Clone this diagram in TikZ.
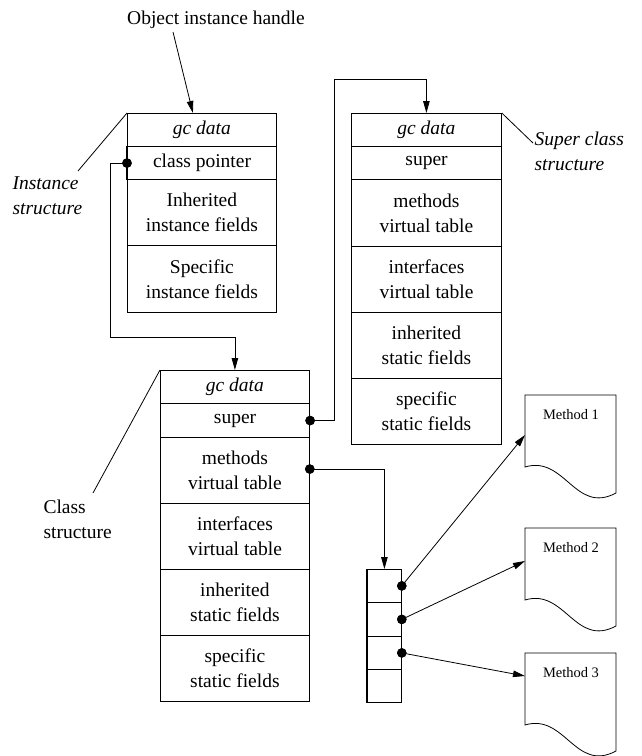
\documentclass[tikz,border=0pt]{standalone}
\usepackage{fontspec}
\setmainfont{Liberation Serif}
\usetikzlibrary{arrows.meta,calc}
\begin{document}
\begin{tikzpicture}[x=1pt,y=-1pt,
  every node/.style={font=\fontsize{19.5}{25}\selectfont},
  cell/.style={draw, line width=0.8pt, anchor=north west, inner sep=0pt, align=center},
  icell/.style={cell, minimum width=149pt},
  scell/.style={cell, minimum width=150pt},
  vcell/.style={cell, minimum width=34pt},
  thickcell/.style={line width=1.1pt},
  dot/.style={circle, fill=black, draw=none, inner sep=0pt, minimum size=9.5pt},
  arr/.style={line width=0.8pt, -{Triangle[length=12pt,width=6.5pt]}},
  wire/.style={line width=0.8pt},
  doc/.style={draw, line width=0.8pt},
  lab/.style={align=left, anchor=west},
  small/.style={font=\fontsize{14.5}{17}\selectfont}
]
\useasboundingbox (0,0) rectangle (642,756);

% ---- title
\node (oih) at (216,20) {Object instance handle};
\coordinate (h0) at (173,32);

% ---- instance structure
\node[icell, minimum height=33pt] (ig) at (127,113) {\itshape gc data};
\node[icell, minimum height=66pt] (iinh) at (127,179) {Inherited\\instance fields};
\node[icell, minimum height=67pt] (isp) at (127,245) {Specific\\instance fields};
\node[icell, minimum height=33pt, thickcell] (icp) at (127,146) {class pointer};
\draw[line width=1.6pt] (icp.north west) -- (icp.south west);

% ---- super class structure
\node[scell, minimum height=33pt] (sg) at (351,113) {\itshape gc data};
\node[scell, minimum height=67pt] (smeth) at (351,179) {methods\\virtual table};
\node[scell, minimum height=66pt] (sinh) at (351,312) {inherited\\static fields};
\node[scell, minimum height=66pt] (ssp) at (351,378) {specific\\static fields};
\node[scell, minimum height=33pt, thickcell] (ssup) at (351,146) {super};
\node[scell, minimum height=66pt, thickcell] (sintf) at (351,246) {interfaces\\virtual table};

% ---- class structure
\node[icell, minimum height=33pt] (cg) at (160,370) {\itshape gc data};
\node[icell, minimum height=66pt] (cmeth) at (160,437) {methods\\virtual table};
\node[icell, minimum height=66pt] (cinh) at (160,569) {inherited\\static fields};
\node[icell, minimum height=66pt] (csp) at (160,635) {specific\\static fields};
\node[icell, minimum height=34pt, thickcell] (csup) at (160,403) {super};
\node[icell, minimum height=66pt, thickcell] (cintf) at (160,503) {interfaces\\virtual table};

% ---- virtual table
\node[vcell, minimum height=33pt] (v1) at (367,569) {};
\node[vcell, minimum height=34pt] (v2) at (367,602) {};
\node[vcell, minimum height=33pt] (v3) at (367,636) {};
\node[vcell, minimum height=33pt] (v4) at (367,669) {};
\draw[line width=1.3pt] (v1.north west) -- (v4.south west) -- (v4.south east);

% ---- methods
\foreach \yy/\n in {395/1,528/2,653/3}{
  \draw[doc] (525,\yy) -- (616,\yy) -- (616,\yy+98)
     .. controls (575,\yy+120) and (565,\yy+60) .. (525,\yy+72) -- cycle;
  \node[small] (m\n) at (571,\yy+20) {Method \n};
}
\coordinate (t1) at (525,435);
\coordinate (t2) at (525,561);
\coordinate (t3) at (525,676);

% ---- labels
\node[lab, font=\fontsize{19.5}{25}\selectfont\itshape] (ilab) at (9,196) {Instance\\structure};
\node[lab, font=\fontsize{19.5}{25}\selectfont\itshape] (slab) at (531,151) {Super class\\structure};
\node[lab] (clab) at (40,519) {Class\\structure};
\coordinate (il) at (78,171);
\coordinate (sl) at (533,143);
\coordinate (cl) at (93,493);
\draw[wire] (il) -- (ig.north west);
\draw[wire] (sl) -- (sg.north east);
\draw[wire] (cl) -- (cg.north west);

% ---- dots
\node[dot] (dI) at (icp.west) {};
\node[dot] (dS) at (csup.east) {};
\node[dot] (dM) at ($(cmeth.north east)!0.48!(cmeth.south east)$) {};
\node[dot] (d1) at (v1.east) {};
\node[dot] (d2) at (v2.east) {};
\node[dot] (d3) at (v3.east) {};

% ---- connectors
\draw[arr] (h0) -- ($(ig.north west)!0.44!(ig.north east)$);
\coordinate (k1) at (110,337);
\draw[arr] (dI.center) -| (k1) -| (cg.north);
\coordinate (k2) at (334,79);
\draw[arr] (dS.center) -| (k2) -| (sg.north);
\draw[arr] (dM.center) -| (v1.north);
\draw[arr] (d1.center) -- (t1);
\draw[arr] (d2.center) -- (t2);
\draw[arr] (d3.center) -- (t3);
\node[dot] at (dI) {};
\node[dot] at (dS) {};
\node[dot] at (dM) {};
\node[dot] at (d1) {};
\node[dot] at (d2) {};
\node[dot] at (d3) {};
\end{tikzpicture}
\end{document}
